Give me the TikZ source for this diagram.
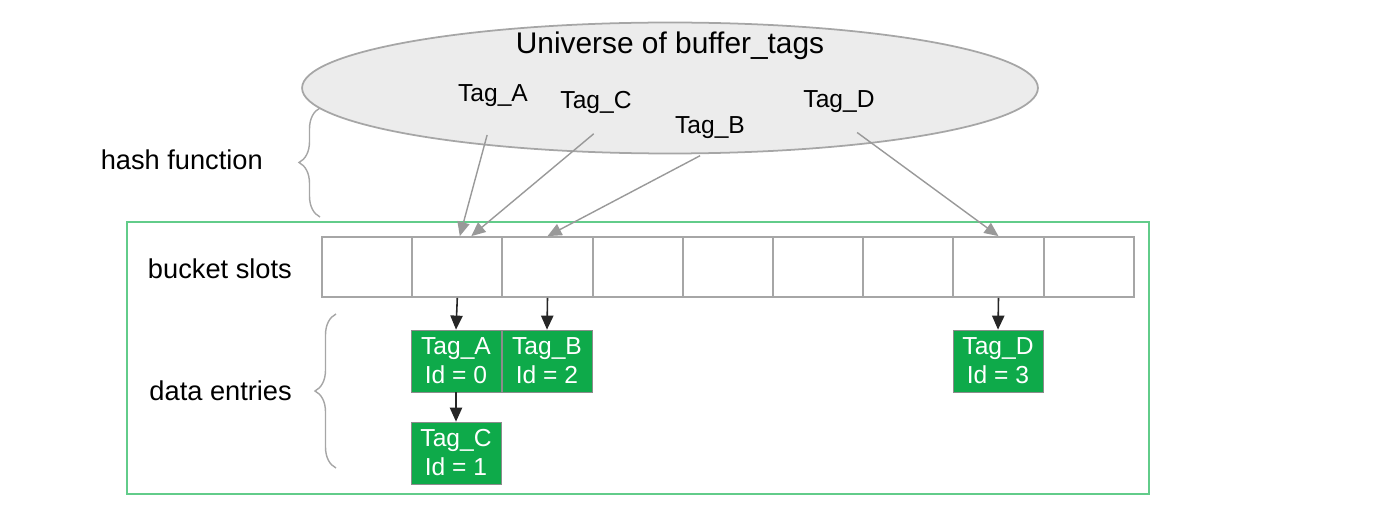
\documentclass[tikz,border=0pt]{standalone}
\usepackage{fontspec}
\setmainfont{Liberation Sans}
\usetikzlibrary{shapes.geometric,decorations.pathreplacing,arrows.meta}

\definecolor{ovalgray}{RGB}{236,236,236}
\definecolor{framegreen}{RGB}{98,204,138}
\definecolor{entrygreen}{RGB}{14,170,74}

\begin{document}
\begin{tikzpicture}[x=0.02cm, y=-0.02cm,
    slot/.style={rectangle, draw=black!35, line width=1pt, minimum width=1.8cm, minimum height=1.2cm, inner sep=0pt},
    entry/.style={rectangle, draw=black!45, fill=entrygreen, text=white, align=center, minimum width=1.8cm, minimum height=1.24cm, inner sep=0pt, font=\fontsize{14}{16.5}\selectfont},
    tag/.style={font=\fontsize{14}{16}\selectfont},
    lbl/.style={font=\fontsize{15.5}{18}\selectfont},
    hash/.style={draw=black!40, line width=0.8pt, -{Triangle[length=8pt,width=7pt]}, shorten <=0.45cm},
    link/.style={draw=black!85, line width=0.9pt, -{Triangle[length=8pt,width=7pt]}},
    brc/.style={draw=black!35, line width=0.8pt, decorate, decoration={brace, amplitude=0.42cm}}]

  \useasboundingbox (0,0) rectangle (1400,530);

  % universo dei tag
  \node[ellipse, draw=black!35, fill=ovalgray, line width=1pt, minimum width=14.72cm, minimum height=2.62cm, inner sep=0pt] (univ) at (670,88) {};
  \node[font=\fontsize{17}{20}\selectfont] (title) at (670,46) {Universe of buffer\_tags};
  \node[tag] (tA) at (493,96) {Tag\_A};
  \node[tag] (tC) at (596,102) {Tag\_C};
  \node[tag] (tB) at (710,128) {Tag\_B};
  \node[tag] (tD) at (839,102) {Tag\_D};

  % cornice verde
  \draw[framegreen, line width=1.2pt] (127,222) rectangle (1149,494);

  % slot dei bucket
  \foreach \i in {1,...,9} {
    \node[slot] (s\i) at ({322+90.2*(\i-0.5)},267) {};
  }

  % voci dei dati
  \node[entry] (eA) at (456,361) {Tag\_A\\Id = 0};
  \node[entry] (eB) at (547,361) {Tag\_B\\Id = 2};
  \node[entry] (eC) at (456,453) {Tag\_C\\Id = 1};
  \node[entry] (eD) at (998,361) {Tag\_D\\Id = 3};

  % funzione hash
  \draw[hash] (tA.south) -- ([xshift=0.05cm]s2.north);
  \draw[hash] ([xshift=0.3cm]tC.south) -- ([xshift=0.28cm]s2.north);
  \draw[hash] ([xshift=0.2cm]tB.south) -- (s3.north);
  \draw[hash] (tD.south) -- (s8.north);

  % collegamenti
  \draw[link] (s2.south) -- (eA.north);
  \draw[link] (s3.south) -- (eB.north);
  \draw[link] (s8.south) -- (eD.north);
  \draw[link] (eA.south) -- (eC.north);

  % etichette e graffe
  \draw[brc] (320,217) -- (320,108);
  \node[lbl, anchor=east] (lhash) at (269,160) {hash function};
  \node[lbl, anchor=east] (lslot) at (298,269) {bucket slots};
  \draw[brc] (336,468) -- (336,314);
  \node[lbl, anchor=east] (ldata) at (298,391) {data entries};
\end{tikzpicture}
\end{document}
